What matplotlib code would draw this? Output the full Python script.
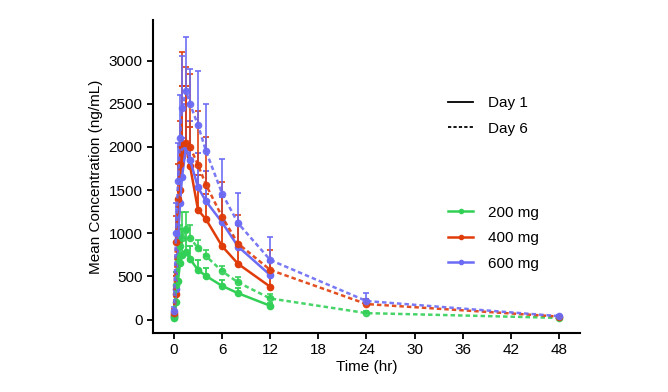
import numpy as np
import matplotlib

matplotlib.use("Agg")
import matplotlib.pyplot as plt
from matplotlib.lines import Line2D

plt.rcParams["font.family"] = ["Liberation Sans", "DejaVu Sans"]

time_d1 = [0, 0.25, 0.5, 0.75, 1, 1.5, 2, 3, 4, 6, 8, 12]
time_d6 = [0, 0.25, 0.5, 0.75, 1, 1.5, 2, 3, 4, 6, 8, 12, 24, 48]

# mean concentrations (ng/mL)
d1_200 = [20, 200, 450, 650, 750, 780, 700, 575, 505, 390, 305, 160]
d1_400 = [50, 300, 900, 1500, 1900, 2000, 1780, 1270, 1160, 850, 645, 380]
d1_600 = [40, 350, 950, 1350, 1650, 2000, 1850, 1530, 1370, 1125, 845, 515]
d6_200 = [30, 400, 700, 850, 950, 1050, 950, 825, 735, 560, 430, 245, 75, 20]
d6_400 = [80, 900, 1400, 1800, 2050, 2050, 2000, 1790, 1560, 1190, 880, 575, 180, 35]
d6_600 = [100, 1000, 1600, 2100, 2450, 2650, 2500, 2250, 1950, 1460, 1115, 690, 215, 40]

# standard deviations (upper bars only)
sd1_200 = [10, 100, 250, 300, 300, 250, 150, 110, 90, 70, 60, 30]
sd1_400 = [30, 200, 500, 500, 800, 700, 450, 400, 300, 280, 240, 150]
sd1_600 = [20, 200, 350, 400, 450, 500, 450, 400, 350, 300, 250, 150]
sd6_200 = [10, 150, 200, 250, 300, 200, 150, 100, 70, 60, 60, 50, 20, 5]
sd6_400 = [40, 300, 400, 500, 1050, 880, 850, 630, 560, 400, 330, 230, 60, 10]
sd6_600 = [50, 350, 450, 500, 600, 620, 400, 630, 550, 400, 350, 265, 90, 10]

doses = ["200 mg", "400 mg", "600 mg"]
colors = ["#33d057", "#e03c0a", "#6b6bf5"]

fig = plt.figure(figsize=(6.68, 3.92), dpi=100)
ax = fig.add_axes([0.229, 0.151, 0.639, 0.798])

day1 = [(d1_200, sd1_200), (d1_400, sd1_400), (d1_600, sd1_600)]
day6 = [(d6_200, sd6_200), (d6_400, sd6_400), (d6_600, sd6_600)]

for (m, sd), c in zip(day1, colors):
    m = np.array(m)
    ax.errorbar(time_d1, m, yerr=[np.zeros_like(m), sd], color=c, lw=1.8,
                marker="o", ms=4.5, capsize=2.5, elinewidth=1.3, capthick=1.3)
for (m, sd), c in zip(day6, colors):
    m = np.array(m)
    eb = ax.errorbar(time_d6, m, yerr=[np.zeros_like(m), sd], color=c, lw=1.8,
                     marker="o", ms=4.5, capsize=2.5, elinewidth=1.3, capthick=1.3,
                     alpha=0.9)
    eb[0].set_linestyle((0, (1.8, 1.2)))

ax.set_xlim(-2.62, 50.6)
ax.set_ylim(-153, 3470)
ax.set_xticks(range(0, 49, 6))
ax.set_yticks(range(0, 3001, 500))
ax.spines["top"].set_visible(False)
ax.spines["right"].set_visible(False)
ax.spines["left"].set_linewidth(1.5)
ax.spines["bottom"].set_linewidth(1.5)
ax.tick_params(direction="out", length=4, width=1.3, labelsize=11)
ax.set_xlabel("Time (hr)", fontsize=11, labelpad=2)
ax.set_ylabel("Mean Concentration (ng/mL)", fontsize=11)

day_handles = [Line2D([], [], color="black", lw=1.3, ls="-"),
               Line2D([], [], color="black", lw=1.3, ls=(0, (1.8, 1.2)))]
leg1 = ax.legend(day_handles, ["Day 1", "Day 6"], loc="upper left",
                 bbox_to_anchor=(0.66, 0.80), frameon=False, fontsize=11,
                 handlelength=1.6, handletextpad=1.0, labelspacing=0.75)
ax.add_artist(leg1)
dose_handles = [Line2D([], [], color=c, lw=1.8, marker="o", ms=3) for c in colors]
ax.legend(dose_handles, doses, loc="upper left", bbox_to_anchor=(0.66, 0.45),
          frameon=False, fontsize=11, handlelength=1.6, handletextpad=1.0,
          labelspacing=0.75)

fig.savefig("out.png", dpi=100)
